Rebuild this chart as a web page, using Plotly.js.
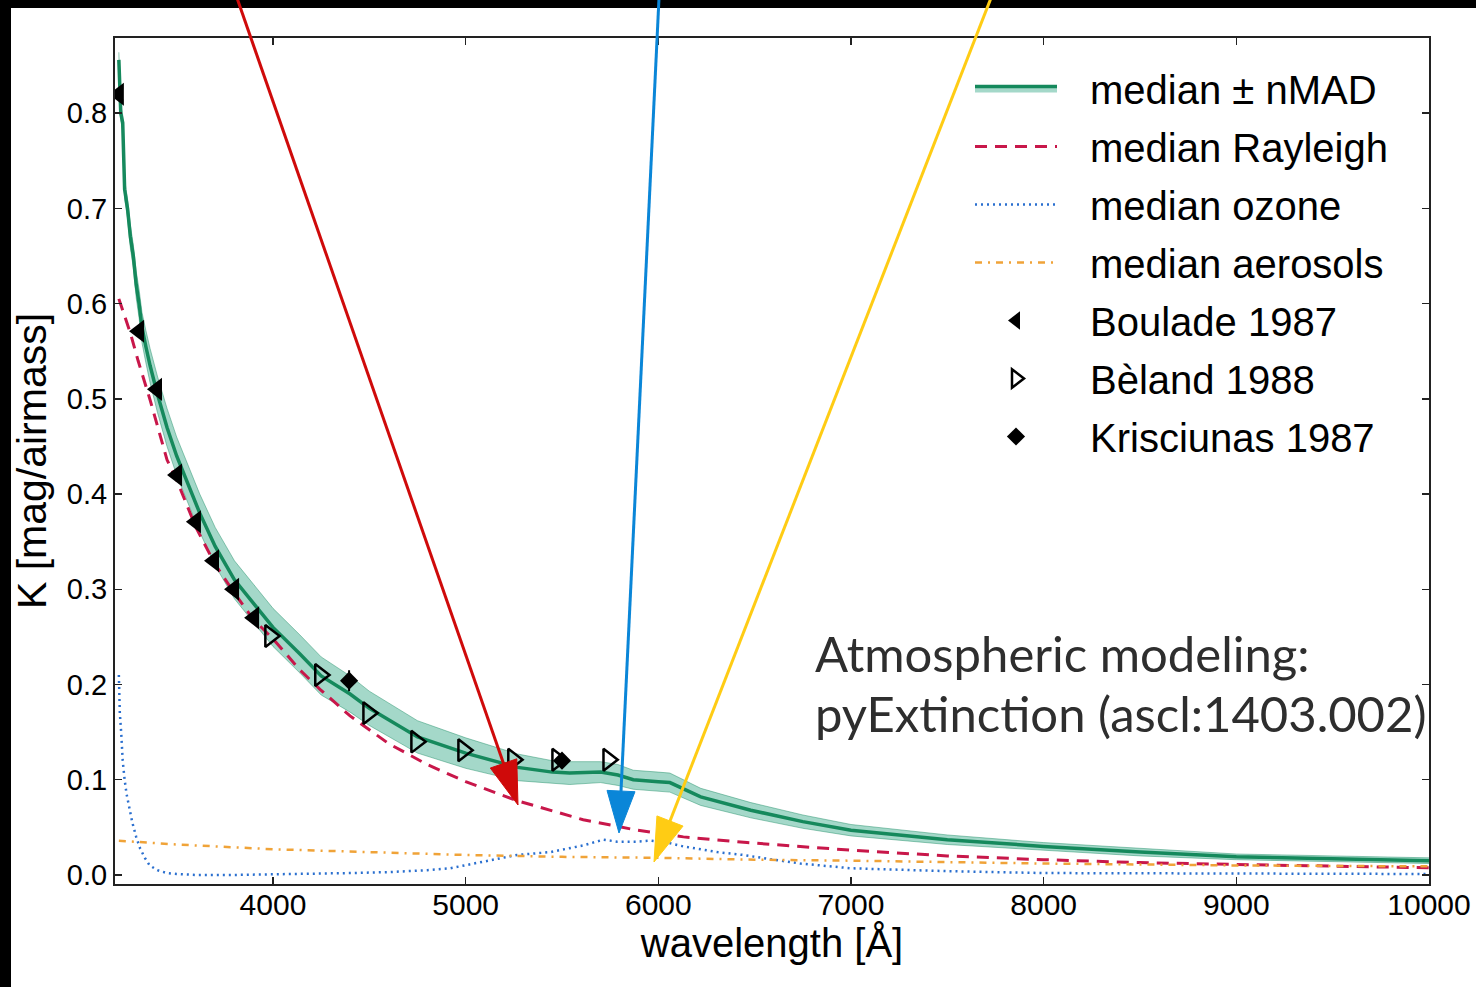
<!DOCTYPE html>
<html>
<head>
<meta charset="utf-8">
<script src="https://cdn.plot.ly/plotly-3.0.1.min.js"></script>
<style>html,body{margin:0;padding:0;background:#fff;}#chart{width:1476px;height:987px;}</style>
</head>
<body>
<div id="chart"></div>
<script>
// ---- data ----
const wlMedian = [3200, 3210, 3220, 3230, 3245, 3260, 3275, 3290, 3305, 3320, 3340, 3362, 3400, 3450, 3500, 3560, 3620, 3700, 3800, 3900, 4000, 4140, 4250, 4400, 4500, 4750, 5000, 5270, 5450, 5540, 5700, 5790, 5870, 6000, 6060, 6220, 6480, 6750, 7000, 7500, 8000, 8500, 9000, 9500, 10000];
const kMedian = [0.856, 0.80, 0.79, 0.72, 0.70, 0.67, 0.65, 0.62, 0.60, 0.575, 0.555, 0.535, 0.505, 0.47, 0.44, 0.41, 0.38, 0.345, 0.31, 0.285, 0.26, 0.232, 0.209, 0.19, 0.175, 0.145, 0.128, 0.113, 0.108, 0.107, 0.108, 0.105, 0.100, 0.098, 0.097, 0.082, 0.068, 0.056, 0.047, 0.037, 0.030, 0.024, 0.019, 0.017, 0.015];
const kNmad = [0.008, 0.008, 0.008, 0.01, 0.01, 0.012, 0.012, 0.014, 0.015, 0.016, 0.017, 0.018, 0.019, 0.02, 0.02, 0.02, 0.02, 0.02, 0.02, 0.02, 0.02, 0.02, 0.02, 0.019, 0.018, 0.017, 0.016, 0.014, 0.012, 0.012, 0.011, 0.011, 0.01, 0.01, 0.01, 0.009, 0.008, 0.007, 0.006, 0.005, 0.004, 0.004, 0.003, 0.003, 0.003];

const wlRayleigh = [3200, 3260, 3300, 3362, 3450, 3500, 3600, 3700, 3800, 3900, 4000, 4141, 4244, 4400, 4600, 4800, 5000, 5267, 5610, 5890, 6130, 6460, 7000, 7500, 8000, 8500, 9000, 9500, 10000];
const kRayleigh = [0.605, 0.569, 0.54, 0.499, 0.436, 0.415, 0.365, 0.326, 0.296, 0.268, 0.248, 0.215, 0.195, 0.167, 0.138, 0.116, 0.098, 0.078, 0.058, 0.047, 0.040, 0.034, 0.026, 0.020, 0.016, 0.013, 0.011, 0.009, 0.0075];

const wlOzone = [3200, 3205, 3212, 3220, 3230, 3240, 3255, 3270, 3290, 3310, 3335, 3360, 3400, 3450, 3500, 3600, 3800, 4000, 4200, 4400, 4600, 4800, 4919, 5091, 5267, 5439, 5610, 5714, 5786, 5890, 5958, 6046, 6129, 6306, 6441, 6600, 6737, 7000, 7500, 8000, 9000, 10000];
const kOzone = [0.21, 0.17, 0.15, 0.12, 0.10, 0.085, 0.07, 0.055, 0.04, 0.028, 0.018, 0.01, 0.005, 0.002, 0.001, 0.0, 0.0, 0.0005, 0.001, 0.002, 0.003, 0.005, 0.007, 0.014, 0.021, 0.024, 0.031, 0.037, 0.035, 0.035, 0.036, 0.034, 0.030, 0.024, 0.021, 0.016, 0.012, 0.007, 0.004, 0.002, 0.0015, 0.001];

const wlAerosols = [3200, 3500, 3800, 4000, 4500, 5000, 5500, 6000, 6500, 7000, 8000, 9000, 10000];
const kAerosols = [0.036, 0.032, 0.029, 0.027, 0.024, 0.021, 0.019, 0.018, 0.016, 0.015, 0.012, 0.010, 0.009];

const wlBoulade = [3200, 3305, 3398, 3502, 3600, 3694, 3798, 3902];
const kBoulade = [0.820, 0.571, 0.510, 0.420, 0.371, 0.330, 0.300, 0.270];

const wlBeland = [3985, 4244, 4494, 4743, 4987, 5246, 5475, 5740];
const kBeland = [0.251, 0.210, 0.170, 0.140, 0.131, 0.121, 0.121, 0.121];

const wlKrisciunas = [4395, 5500];
const kKrisciunas = [0.204, 0.120];
const errKrisciunas = [0.011, 0.008];

const xTicks = [4000, 5000, 6000, 7000, 8000, 9000, 10000];
const yTicks = [0.0, 0.1, 0.2, 0.3, 0.4, 0.5, 0.6, 0.7, 0.8];

// ---- band edges ----
const kLower = kMedian.map((v, i) => v - kNmad[i]);
const kUpper = kMedian.map((v, i) => v + kNmad[i]);

const GREEN = '#15895c';
const BAND = 'rgba(27,158,119,0.40)';
const EDGE = 'rgba(27,140,100,0.45)';
const FONT = 'Liberation Sans, Arial, sans-serif';
const PAD = '\u2002\u2009';

const traces = [
  {x: wlMedian, y: kLower, mode: 'lines', line: {color: EDGE, width: 1}, showlegend: false, legendgroup: 'g1', hoverinfo: 'skip'},
  {x: wlMedian, y: kMedian, mode: 'lines', fill: 'tonexty', fillcolor: BAND, line: {color: GREEN, width: 3.5}, name: PAD + 'median ± nMAD', legendgroup: 'g1'},
  {x: wlMedian, y: kUpper, mode: 'lines', fill: 'tonexty', fillcolor: BAND, line: {color: EDGE, width: 1}, showlegend: false, legendgroup: 'g1', hoverinfo: 'skip'},
  {x: wlRayleigh, y: kRayleigh, mode: 'lines', line: {color: '#c8174a', width: 3, dash: '12px,8px'}, name: PAD + 'median Rayleigh', legendgroup: 'g2'},
  {x: wlOzone, y: kOzone, mode: 'lines', line: {color: '#2a6fcf', width: 2.5, dash: '2px,4px'}, name: PAD + 'median ozone', legendgroup: 'g3'},
  {x: wlAerosols, y: kAerosols, mode: 'lines', line: {color: '#f0a338', width: 2.5, dash: '7px,6px,2px,6px'}, name: PAD + 'median aerosols', legendgroup: 'g4'},
  {x: wlBoulade, y: kBoulade, mode: 'markers', marker: {symbol: 'triangle-left', size: 20, color: '#000', line: {width: 0}}, name: PAD + 'Boulade 1987', legendgroup: 'g5'},
  {x: wlBeland, y: kBeland, mode: 'markers', marker: {symbol: 'triangle-right-open', size: 19, color: '#000', line: {width: 2.5, color: '#000'}}, name: PAD + 'Bèland 1988', legendgroup: 'g6'},
  {x: wlKrisciunas, y: kKrisciunas, mode: 'markers', marker: {symbol: 'diamond', size: 14, color: '#000', line: {width: 0}},
   error_y: {type: 'data', array: errKrisciunas, visible: true, thickness: 2, width: 0, color: '#000'}, name: PAD + 'Krisciunas 1987', legendgroup: 'g7'}
];

// ---- page geometry (pixels) for decorations ----
const W = 1476, H = 987, L = 115, R = 1429, T = 38, B = 884;
const px = v => (v - L) / (R - L);
const py = v => (B - v) / (B - T);

function arrow(tail, tip, color, width, headLen, headW) {
  const dx = tip[0] - tail[0], dy = tip[1] - tail[1];
  const len = Math.hypot(dx, dy);
  const ux = dx / len, uy = dy / len;
  const bx = tip[0] - ux * headLen, by = tip[1] - uy * headLen;
  const nx = -uy, ny = ux;
  const p1 = [bx + nx * headW / 2, by + ny * headW / 2];
  const p2 = [bx - nx * headW / 2, by - ny * headW / 2];
  return [
    {type: 'line', xref: 'paper', yref: 'paper', layer: 'above', x0: px(tail[0]), y0: py(tail[1]), x1: px(bx + ux * 4), y1: py(by + uy * 4), line: {color: color, width: width}},
    {type: 'path', xref: 'paper', yref: 'paper', layer: 'above',
     path: `M${px(tip[0])},${py(tip[1])} L${px(p1[0])},${py(p1[1])} L${px(p2[0])},${py(p2[1])} Z`,
     fillcolor: color, line: {color: color, width: 1}}
  ];
}

const shapes = [
  {type: 'rect', xref: 'paper', yref: 'paper', layer: 'above', x0: px(-5), x1: px(W + 5), y0: py(8), y1: py(-5), fillcolor: '#000', line: {width: 0}},
  {type: 'rect', xref: 'paper', yref: 'paper', layer: 'above', x0: px(-5), x1: px(11), y0: py(H + 5), y1: py(-5), fillcolor: '#000', line: {width: 0}},
  ...arrow([237, -2], [518, 805], '#cf0a0a', 3, 44, 28),
  ...arrow([659, -2], [619, 833], '#0a86d8', 3, 42, 28),
  ...arrow([991, -2], [654, 862], '#ffcc14', 3, 44, 28)
];

const noteFont = {family: 'Lato, Noto Sans, sans-serif', size: 49, color: '#2e2e2e'};

const layout = {
  width: W, height: H,
  margin: {l: L, r: W - R, t: T, b: H - B, pad: 0},
  paper_bgcolor: '#fff', plot_bgcolor: '#fff',
  font: {family: FONT, color: '#000'},
  showlegend: true,
  xaxis: {
    range: [3180, 10000], tickvals: xTicks, ticktext: xTicks.map(String),
    ticks: 'inside', ticklen: 7, tickwidth: 1.5, tickcolor: '#222',
    showline: true, linecolor: '#222', linewidth: 2, mirror: 'ticks',
    showgrid: false, zeroline: false, automargin: false,
    ticklabelstandoff: -7,
    tickfont: {size: 30, family: FONT, color: '#000'},
    title: {text: 'wavelength [Å]', font: {size: 40, family: FONT, color: '#000'}, standoff: 4}
  },
  yaxis: {
    range: [-0.0095, 0.879], tickvals: yTicks, ticktext: yTicks.map(v => v.toFixed(1)),
    ticks: 'inside', ticklen: 7, tickwidth: 1.5, tickcolor: '#222',
    showline: true, linecolor: '#222', linewidth: 2, mirror: 'ticks',
    showgrid: false, zeroline: false, automargin: false,
    tickfont: {size: 29, family: FONT, color: '#000'},
    title: {text: 'K [mag/airmass]', font: {size: 41, family: FONT, color: '#000'}, standoff: 8}
  },
  legend: {
    x: px(970), xanchor: 'left', y: py(56), yanchor: 'top',
    bgcolor: 'rgba(255,255,255,0)', borderwidth: 0,
    font: {size: 40, family: FONT, color: '#000'},
    traceorder: 'grouped', tracegroupgap: 3, itemwidth: 82
  },
  shapes: shapes,
  annotations: [
    {xref: 'paper', yref: 'paper', x: px(813), y: py(653), xanchor: 'left', yanchor: 'middle',
     text: 'Atmospheric modeling:', align: 'left', showarrow: false, font: noteFont},
    {xref: 'paper', yref: 'paper', x: px(813), y: py(713), xanchor: 'left', yanchor: 'middle',
     text: 'pyExtinction (ascl:1403.002)', align: 'left', showarrow: false, font: noteFont}
  ]
};

Plotly.newPlot('chart', traces, layout, {displayModeBar: false, staticPlot: true});
</script>
</body>
</html>
